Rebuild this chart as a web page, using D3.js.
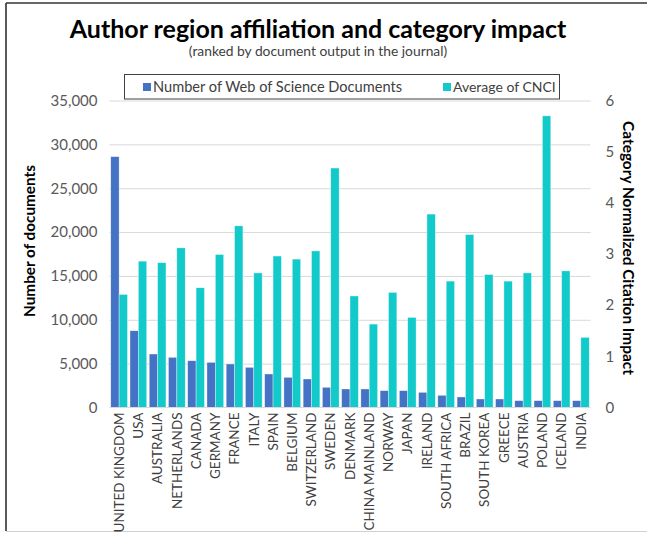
<!DOCTYPE html>
<html><head><meta charset="utf-8">
<script src="https://cdn.jsdelivr.net/npm/d3@7"></script>
<style>body{margin:0;background:#fff}</style>
</head><body>
<svg id="c" width="647" height="534"></svg>
<script>
const categories = ["UNITED KINGDOM","USA","AUSTRALIA","NETHERLANDS","CANADA","GERMANY","FRANCE","ITALY","SPAIN","BELGIUM","SWITZERLAND","SWEDEN","DENMARK","CHINA MAINLAND","NORWAY","JAPAN","IRELAND","SOUTH AFRICA","BRAZIL","SOUTH KOREA","GREECE","AUSTRIA","POLAND","ICELAND","INDIA"];
const documents = [28600,8750,6100,5720,5330,5150,4960,4580,3820,3440,3250,2300,2110,2110,1920,1920,1730,1390,1200,970,970,780,780,780,780];
const cnci = [2.21,2.86,2.83,3.12,2.34,2.99,3.55,2.63,2.96,2.90,3.06,4.68,2.18,1.63,2.25,1.76,3.78,2.47,3.38,2.60,2.47,2.63,5.70,2.67,1.37];
const docTicks = [0,5000,10000,15000,20000,25000,30000,35000];
const cnciTicks = [0,1,2,3,4,5,6];
const seriesNames = ["Number of Web of Science Documents","Average of CNCI"];
const colors = ["#4472C4","#13CACB"];

const svg = d3.select("#c");
const pLeft = 109.5, pRight = 590.5, pTop = 100.5, pBottom = 407.5;

// frame
svg.append("line").attr("x1",6).attr("x2",6).attr("y1",3).attr("y2",531).attr("stroke","#222").attr("stroke-width",1.5);
svg.append("line").attr("x1",6).attr("x2",647).attr("y1",3).attr("y2",3).attr("stroke","#333").attr("stroke-width",1.5);
svg.append("line").attr("x1",6).attr("x2",647).attr("y1",531.5).attr("y2",531.5).attr("stroke","#d0d0d0").attr("stroke-width",1);

const x = d3.scaleBand().domain(categories).range([pLeft,pRight]).paddingInner(0).paddingOuter(0);
const xs = d3.scaleBand().domain([0,1]).range([0,x.bandwidth()]).paddingOuter(0.15).paddingInner(0);
const yL = d3.scaleLinear().domain([0,35000]).range([pBottom,pTop]);
const yR = d3.scaleLinear().domain([0,6]).range([pBottom,pTop]);

// grid
svg.append("g").attr("transform",`translate(${pLeft},0)`)
  .call(d3.axisLeft(yL).tickValues(docTicks.slice(1)).tickSize(-(pRight-pLeft)).tickFormat(""))
  .call(g=>g.select(".domain").remove())
  .call(g=>g.selectAll("line").attr("stroke","#d9d9d9").attr("stroke-width",1));

// left axis labels
svg.append("g").attr("transform",`translate(${pLeft-9},0)`)
  .call(d3.axisLeft(yL).tickValues(docTicks).tickSize(0).tickFormat(d3.format(",")))
  .call(g=>g.select(".domain").remove())
  .call(g=>g.selectAll("text").attr("fill","#595959").style("font-family","Lato").style("font-size","15px"));

// right axis labels
svg.append("g").attr("transform",`translate(${pRight+12},0)`)
  .call(d3.axisRight(yR).tickValues(cnciTicks).tickSize(0).tickFormat(d3.format("d")))
  .call(g=>g.select(".domain").remove())
  .call(g=>g.selectAll("text").attr("fill","#595959").style("font-family","Lato").style("font-size","15px"));

// bars
const grp = svg.append("g").selectAll("g").data(categories).join("g")
  .attr("transform",d=>`translate(${x(d)},0)`);
grp.append("rect").attr("x",xs(0)).attr("width",xs.bandwidth())
  .attr("y",(d,i)=>yL(documents[i])).attr("height",(d,i)=>pBottom-yL(documents[i]))
  .attr("fill",colors[0]).attr("stroke","#ffffff").attr("stroke-opacity",0.6).attr("stroke-width",0.6);
grp.append("rect").attr("x",xs(1)).attr("width",xs.bandwidth())
  .attr("y",(d,i)=>yR(cnci[i])).attr("height",(d,i)=>pBottom-yR(cnci[i]))
  .attr("fill",colors[1]).attr("stroke","#ffffff").attr("stroke-opacity",0.6).attr("stroke-width",0.6);

// baseline
svg.append("line").attr("x1",pLeft).attr("x2",pRight).attr("y1",pBottom).attr("y2",pBottom).attr("stroke","#d9d9d9");

// x labels
svg.append("g").attr("transform",`translate(0,${pBottom})`)
  .call(d3.axisBottom(x).tickSize(0).tickPadding(0))
  .call(g=>g.select(".domain").remove())
  .call(g=>g.selectAll("text").attr("fill","#404040").style("font-family","Lato").style("font-size","13.5px")
    .attr("transform","rotate(-90)").attr("text-anchor","end").attr("dy","0.35em").attr("x",-5).attr("y",0));

// title
svg.append("text").attr("x",318).attr("y",38).attr("text-anchor","middle")
  .style("font-family","Lato").style("font-weight","bold").style("font-size","25px").attr("fill","#000")
  .text("Author region affiliation and category impact");
svg.append("text").attr("x",318).attr("y",56).attr("text-anchor","middle")
  .style("font-family","Lato").style("font-size","13.8px").attr("fill","#404040")
  .text("(ranked by document output in the journal)");

// axis titles
svg.append("text").attr("transform","translate(34.5,241) rotate(-90)").attr("text-anchor","middle")
  .style("font-family","Lato").style("font-weight","bold").style("font-size","15.3px").attr("fill","#000")
  .text("Number of documents");
svg.append("text").attr("transform","translate(622.5,248) rotate(90)").attr("text-anchor","middle")
  .style("font-family","Lato").style("font-weight","bold").style("font-size","15.4px").attr("fill","#000")
  .text("Category Normalized Citation Impact");

// legend
const lg = svg.append("g");
lg.append("rect").attr("x",124.5).attr("y",74.5).attr("width",435).attr("height",24.5)
  .attr("fill","#fff").attr("stroke","#404040").attr("stroke-width",1);
const lx = [143,443];
const lfs = ["14.6px","14px"];
seriesNames.forEach((n,i)=>{
  lg.append("rect").attr("x",lx[i]).attr("y",83).attr("width",8).attr("height",8).attr("fill",colors[i]);
  lg.append("text").attr("x",lx[i]+10).attr("y",92).style("font-family","Lato").style("font-size",lfs[i])
    .attr("fill","#404040").text(n);
});
</script>
</body></html>
